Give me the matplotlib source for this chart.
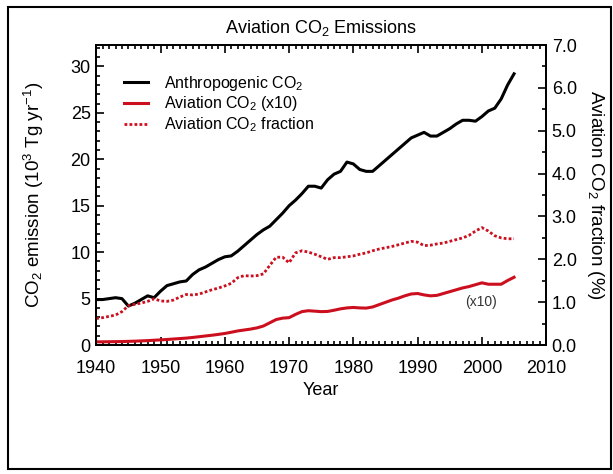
import numpy as np
import matplotlib
matplotlib.use("Agg")
import matplotlib.pyplot as plt
from matplotlib.ticker import MultipleLocator, FormatStrFormatter
from matplotlib.patches import Rectangle

plt.rcParams['font.family'] = ['Liberation Sans', 'DejaVu Sans']
plt.rcParams['mathtext.fontset'] = 'custom'
plt.rcParams['mathtext.rm'] = 'Liberation Sans'
plt.rcParams['mathtext.it'] = 'Liberation Sans:italic'

# data
years = list(range(1940, 2006))
anthro_co2 = [4.9, 4.9, 5.0, 5.1, 5.0, 4.2, 4.5, 4.9, 5.3, 5.1,
              5.8, 6.4, 6.6, 6.8, 6.9, 7.6, 8.1, 8.4, 8.8, 9.2,
              9.5, 9.6, 10.1, 10.7, 11.3, 11.9, 12.4, 12.8, 13.5, 14.2,
              15.0, 15.6, 16.3, 17.1, 17.1, 16.9, 17.8, 18.4, 18.7, 19.7,
              19.5, 18.9, 18.7, 18.7, 19.3, 19.9, 20.5, 21.1, 21.7, 22.3,
              22.6, 22.9, 22.5, 22.5, 22.9, 23.3, 23.8, 24.2, 24.2, 24.1,
              24.6, 25.2, 25.5, 26.5, 28.0, 29.2]
aviation_x10 = [0.35, 0.35, 0.36, 0.37, 0.38, 0.40, 0.42, 0.45, 0.48, 0.52,
                0.56, 0.60, 0.65, 0.70, 0.75, 0.82, 0.90, 0.98, 1.06, 1.15,
                1.25, 1.38, 1.52, 1.62, 1.72, 1.85, 2.05, 2.40, 2.75, 2.90,
                2.95, 3.30, 3.60, 3.70, 3.65, 3.60, 3.62, 3.75, 3.90, 4.00,
                4.05, 4.00, 3.98, 4.10, 4.35, 4.60, 4.85, 5.05, 5.30, 5.50,
                5.55, 5.40, 5.30, 5.35, 5.55, 5.75, 5.95, 6.15, 6.30, 6.50,
                6.70, 6.55, 6.55, 6.55, 6.95, 7.30]
aviation_frac = [0.62, 0.64, 0.67, 0.70, 0.78, 0.92, 0.95, 0.98, 1.02, 1.08,
                 1.03, 1.02, 1.05, 1.12, 1.18, 1.17, 1.19, 1.24, 1.29, 1.33,
                 1.38, 1.44, 1.57, 1.62, 1.61, 1.62, 1.66, 1.86, 2.05, 2.05,
                 1.92, 2.15, 2.20, 2.17, 2.12, 2.06, 2.00, 2.04, 2.04, 2.06,
                 2.08, 2.12, 2.15, 2.20, 2.24, 2.27, 2.30, 2.34, 2.38, 2.42,
                 2.40, 2.32, 2.33, 2.36, 2.38, 2.42, 2.46, 2.50, 2.56, 2.66,
                 2.74, 2.66, 2.55, 2.50, 2.48, 2.48]

red = '#cc0f1e'

fig = plt.figure(figsize=(6.13, 4.74), dpi=100)
ax = fig.add_axes([0.157, 0.272, 0.734, 0.633])
ax2 = ax.twinx()

ax2.plot(years, aviation_frac, color=red, lw=2.0, ls=(0, (1, 0.8)),
         label='Aviation CO$_2$ fraction')
ax.plot(years, aviation_x10, color=red, lw=2.2, label='Aviation CO$_2$ (x10)')
ax.plot(years, anthro_co2, color='black', lw=2.2, label='Anthropogenic CO$_2$')

ax.set_xlim(1940, 2010)
ax.set_ylim(0, 32.3)
ax2.set_ylim(0, 7.0)

ax.xaxis.set_major_locator(MultipleLocator(10))
ax.xaxis.set_minor_locator(MultipleLocator(1))
ax.yaxis.set_major_locator(MultipleLocator(5))
ax.yaxis.set_minor_locator(MultipleLocator(1))
ax2.yaxis.set_major_locator(MultipleLocator(1))
ax2.yaxis.set_minor_locator(MultipleLocator(0.5))
ax2.yaxis.set_major_formatter(FormatStrFormatter('%.1f'))

ax.tick_params(which='both', direction='in', top=True, right=False,
               labelsize=13, width=1.2)
ax.tick_params(axis='x', pad=11)
ax.tick_params(axis='y', pad=4)
ax.tick_params(which='major', length=5.5)
ax.tick_params(which='minor', length=3)
ax2.tick_params(which='both', direction='in', labelsize=13, width=1.2, pad=4)
ax2.tick_params(which='major', length=5.5)
ax2.tick_params(which='minor', length=3)

for a in (ax, ax2):
    for s in a.spines.values():
        s.set_linewidth(1.3)

ax.set_xlabel('Year', fontsize=13, labelpad=3)
ax.set_ylabel('CO$_2$ emission (10$^3$ Tg yr$^{-1}$)', fontsize=13.5, labelpad=18)
ax2.set_ylabel('Aviation CO$_2$ fraction (%)', fontsize=13.5, rotation=270,
               labelpad=21)
ax.set_title('Aviation CO$_2$ Emissions', fontsize=13, pad=9)

ax.text(1999.9, 4.6, '(x10)', fontsize=10, ha='center', va='center',
        color='#333333')

h1, l1 = ax.get_legend_handles_labels()
h2, l2 = ax2.get_legend_handles_labels()
handles = [h1[1], h1[0], h2[0]]
labels = [l1[1], l1[0], l2[0]]
ax.legend(handles, labels, loc='upper left', bbox_to_anchor=(0.062, 0.905),
          borderaxespad=0, borderpad=0, frameon=False, fontsize=11.5,
          handlelength=1.5, handletextpad=1.0, labelspacing=0.12)

# outer frame of the image
fig.patches.append(Rectangle((0.013, 0.01), 0.984, 0.976, transform=fig.transFigure,
                             fill=False, edgecolor='black', lw=1.5))

fig.savefig('out.png', dpi=100)
